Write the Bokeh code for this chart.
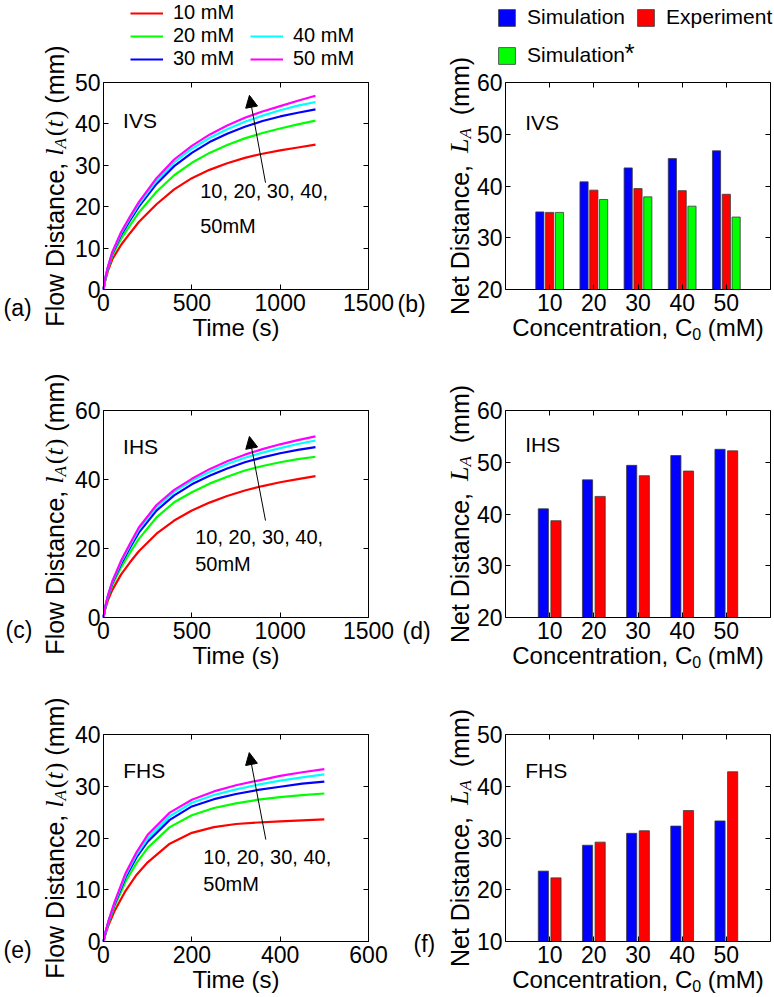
import numpy as np
from bokeh.plotting import figure
from bokeh.models import (Range1d, LinearAxis, FixedTicker, Label, Arrow, NormalHead,
                          Legend, LegendItem, ColumnDataSource)
from bokeh.transform import dodge
from bokeh.embed import file_html
from bokeh.resources import INLINE

# ---------------------------------------------------------------- data
conc = [10, 20, 30, 40, 50]
conc_labels = ["10", "20", "30", "40", "50"]
series_names = ["10 mM", "20 mM", "30 mM", "40 mM", "50 mM"]
curve_colors = ["#ff0000", "#00ff00", "#0000ff", "#00ffff", "#ff00ff"]

# IVS flow distance vs time (s -> mm)
t_ivs = [0, 10, 25, 50, 100, 150, 200, 300, 400, 500, 600, 700, 800, 900, 1000, 1100, 1200]
ivs_10 = [0, 2.2, 4.5, 7.3, 10.8, 13.6, 16.3, 20.6, 24.2, 26.9, 28.9, 30.5, 31.8, 32.8, 33.6, 34.3, 35.0]
ivs_20 = [0, 2.5, 5.0, 8.2, 12.3, 15.5, 18.6, 23.6, 27.6, 30.6, 33.0, 34.9, 36.5, 37.8, 38.9, 39.9, 40.8]
ivs_30 = [0, 2.6, 5.3, 8.7, 13.2, 16.7, 20.0, 25.5, 29.8, 33.0, 35.6, 37.6, 39.3, 40.7, 41.8, 42.7, 43.5]
ivs_40 = [0, 2.7, 5.4, 8.9, 13.6, 17.2, 20.6, 26.3, 30.7, 34.0, 36.6, 38.7, 40.5, 42.0, 43.3, 44.4, 45.3]
ivs_50 = [0, 2.8, 5.5, 9.1, 13.9, 17.6, 21.1, 26.9, 31.4, 34.7, 37.4, 39.6, 41.5, 43.0, 44.3, 45.6, 46.8]

# IHS flow distance vs time
t_ihs = [0, 10, 25, 50, 100, 150, 200, 300, 400, 500, 600, 700, 800, 900, 1000, 1100, 1200]
ihs_10 = [0, 2.5, 5.0, 8.0, 12.5, 16.0, 19.2, 24.3, 28.1, 31.0, 33.3, 35.2, 36.8, 38.1, 39.2, 40.1, 41.0]
ihs_20 = [0, 2.9, 5.8, 9.4, 14.6, 18.8, 22.8, 29.0, 33.4, 36.3, 38.8, 40.8, 42.6, 43.9, 45.0, 45.9, 46.6]
ihs_30 = [0, 3.0, 6.1, 10.0, 15.6, 20.2, 24.6, 31.0, 35.4, 38.6, 41.1, 43.2, 45.0, 46.4, 47.6, 48.6, 49.4]
ihs_40 = [0, 3.1, 6.3, 10.3, 16.1, 20.9, 25.5, 32.0, 36.4, 39.6, 42.2, 44.5, 46.3, 47.8, 49.1, 50.3, 51.3]
ihs_50 = [0, 3.2, 6.4, 10.5, 16.5, 21.4, 26.1, 32.6, 37.0, 40.2, 43.0, 45.3, 47.2, 48.8, 50.2, 51.4, 52.5]

# FHS flow distance vs time
t_fhs = [0, 5, 12, 25, 50, 75, 100, 150, 200, 250, 300, 350, 400, 450, 500]
fhs_10 = [0, 1.6, 3.3, 5.9, 9.8, 12.9, 15.3, 18.9, 21.0, 22.1, 22.7, 23.0, 23.2, 23.4, 23.6]
fhs_20 = [0, 1.8, 3.8, 6.8, 11.6, 15.2, 18.1, 22.1, 24.4, 25.8, 26.7, 27.4, 27.9, 28.3, 28.6]
fhs_30 = [0, 1.9, 4.0, 7.2, 12.4, 16.3, 19.3, 23.5, 26.1, 27.5, 28.5, 29.3, 29.9, 30.5, 30.9]
fhs_40 = [0, 1.9, 4.1, 7.4, 12.8, 16.8, 19.9, 24.2, 26.8, 28.3, 29.4, 30.3, 31.1, 31.7, 32.3]
fhs_50 = [0, 2.0, 4.2, 7.6, 13.2, 17.3, 20.6, 24.9, 27.4, 29.0, 30.2, 31.1, 32.0, 32.7, 33.3]

# net distance L_A (mm) per concentration
ivs_sim = [35.0, 40.8, 43.5, 45.3, 46.8]
ivs_exp = [34.9, 39.2, 39.5, 39.1, 38.4]
ivs_sim_star = [34.9, 37.4, 37.9, 36.1, 34.0]
ihs_sim = [41.0, 46.6, 49.4, 51.3, 52.5]
ihs_exp = [38.7, 43.4, 47.4, 48.3, 52.2]
fhs_sim = [23.6, 28.6, 30.9, 32.3, 33.3]
fhs_exp = [22.3, 29.2, 31.4, 35.3, 42.8]

# ---------------------------------------------------------------- canvas
W, H = 774, 997
SANS = "Liberation Sans"
SERIF = "Liberation Serif"
TICK_PX = "23px"

# One canvas; the default ranges are page pixels (y downwards) and carry the
# free-standing titles, tags and legends.  Each panel gets its own pair of
# extra ranges that map its data onto its box.
p = figure(width=W, height=H, x_range=Range1d(0, W), y_range=Range1d(H, 0),
           output_backend="svg", toolbar_location=None,
           x_axis_location=None, y_axis_location=None,
           min_border=0, min_border_left=0, min_border_right=0,
           min_border_top=0, min_border_bottom=0)
p.grid.visible = False
p.outline_line_color = None
p.background_fill_color = "white"
p.border_fill_color = "white"

# panel boxes on the page: (left, right, top, bottom) in pixels
BOX = {"a": (103, 368, 82, 289), "b": (505, 770, 82, 289),
       "c": (103, 368, 410, 617), "d": (505, 770, 410, 617),
       "e": (103, 368, 734, 941), "f": (505, 770, 734, 941)}
XR = {"a": (0, 1500), "b": (0, 6), "c": (0, 1500), "d": (0, 6), "e": (0, 600), "f": (0, 6)}
YR = {"a": (0, 50), "b": (20, 60), "c": (0, 60), "d": (20, 60), "e": (0, 40), "f": (10, 50)}

extra_x, extra_y = {}, {}
for k, (L, R, T, B) in BOX.items():
    x0, x1 = XR[k]
    y0, y1 = YR[k]
    sx = (R - L) / (x1 - x0)
    sy = (B - T) / (y1 - y0)
    extra_x[k + "x"] = Range1d(x0 - L / sx, x1 + (W - R) / sx)
    extra_y[k + "y"] = Range1d(y0 - (H - B) / sy, y1 + T / sy)
p.extra_x_ranges = extra_x
p.extra_y_ranges = extra_y


def rn(k):
    return dict(x_range_name=k + "x", y_range_name=k + "y")


def add_axes(k, xticks, yticks, xlabels=None):
    x0, x1 = XR[k]
    y0, y1 = YR[k]
    specs = [("below", y0, (x0, x1), xticks, True),
             ("above", y1, (x0, x1), xticks, False),
             ("left", x0, (y0, y1), yticks, True),
             ("right", x1, (y0, y1), yticks, False)]
    for side, loc, bounds, ticks, labelled in specs:
        ax = LinearAxis(ticker=FixedTicker(ticks=ticks), fixed_location=loc, bounds=bounds, **rn(k))
        ax.axis_line_color = "black"
        ax.axis_line_width = 1
        ax.major_tick_line_color = "black"
        ax.major_tick_in = 5
        ax.major_tick_out = 0
        ax.minor_tick_line_color = None
        ax.major_label_text_font = SANS
        ax.major_label_text_font_size = TICK_PX
        if labelled:
            ax.major_label_text_color = "black"
            ax.major_label_standoff = 4 if side == "below" else 3
            if xlabels and side == "below":
                ax.major_label_overrides = xlabels
        else:
            ax.major_label_text_color = None
            ax.major_label_standoff = 0
        p.add_layout(ax, side)


# ---------------------------------------------------------------- text helpers
SANS_W = {"F": 611, "l": 222, "o": 556, "w": 722, " ": 278, "D": 722, "i": 222, "s": 500,
          "t": 278, "a": 556, "n": 556, "c": 500, "e": 556, ",": 278, "(": 333, ")": 333,
          "m": 833, "N": 722, "C": 722, "r": 333, "T": 611, "M": 833, "0": 556}
SERIF_W = {"(": 333, ")": 333}
SERIF_I_W = {"l": 278, "A": 611, "t": 278, "L": 556}


def advance(text, font, style, size):
    if font == SANS:
        table = SANS_W
    elif style == "italic":
        table = SERIF_I_W
    else:
        table = SERIF_W
    return sum(table.get(ch, 556) for ch in text) * size / 1000.0


def txt(x, y, text, size, font=SANS, style="normal", align="left", angle=0.0):
    p.add_layout(Label(x=x, y=y, text=text, angle=angle, text_font=font,
                       text_font_style=style, text_font_size=f"{size}px",
                       text_align=align, text_baseline="middle", text_color="black"))


def y_title(pieces, mid_x, centre_y):
    """Vertical title from runs (text, font, style, size, sub_shift, gap_before)."""
    total = sum(advance(t, f, s, z) + g for t, f, s, z, _, g in pieces)
    y = centre_y + total / 2.0
    for text, font, style, size, shift, gap in pieces:
        y -= gap
        txt(mid_x + shift, y, text, size, font, style, angle=np.pi / 2)
        y -= advance(text, font, style, size)


def x_title(pieces, centre_x, mid_y):
    total = sum(advance(t, f, s, z) + g for t, f, s, z, _, g in pieces)
    x = centre_x - total / 2.0
    for text, font, style, size, shift, gap in pieces:
        x += gap
        txt(x, mid_y + shift, text, size, font, style)
        x += advance(text, font, style, size)


SP25 = 0.278 * 25
FLOW_PIECES = [("Flow Distance,", SANS, "normal", 25, 0, 0),
               ("l", SERIF, "italic", 26, 0, SP25),
               ("A", SERIF, "italic", 17, 6, 0),
               ("(", SERIF, "normal", 26, 0, 2),
               ("t", SERIF, "italic", 26, 0, 0),
               (")", SERIF, "normal", 26, 0, 1),
               ("(mm)", SANS, "normal", 25, 0, SP25)]
NET_PIECES = [("Net Distance,", SANS, "normal", 25, 0, 0),
              ("L", SERIF, "italic", 26, 0, SP25 + 5),
              ("A", SERIF, "italic", 17, 6, 0),
              ("(mm)", SANS, "normal", 25, 0, SP25 + 6)]
CONC_PIECES = [("Concentration, C", SANS, "normal", 24, 0, 0),
               ("0", SANS, "normal", 16, 6, 0),
               ("(mM)", SANS, "normal", 24, 0, 0.278 * 24)]


def centre(k):
    L, R, T, B = BOX[k]
    return (L + R) / 2.0, (T + B) / 2.0


# ---------------------------------------------------------------- curve panels
def curve_panel(k, t, ys, xticks, yticks, tag, tag_xy, name, name_xy, note_x, note_ys, arrow):
    add_axes(k, xticks, yticks)
    rends = [p.line(t, y, line_color=c, line_width=2.2, **rn(k)) for y, c in zip(ys, curve_colors)]
    p.add_layout(Label(x=name_xy[0], y=name_xy[1], text=name, text_font=SANS,
                       text_font_size="21px", text_baseline="middle", text_color="black", **rn(k)))
    for line_text, ny in zip(["10, 20, 30, 40,", "50mM"], note_ys):
        p.add_layout(Label(x=note_x, y=ny, text=line_text, text_font=SANS,
                           text_font_size="20px", text_baseline="middle",
                           text_color="black", **rn(k)))
    p.add_layout(Arrow(end=NormalHead(size=12, fill_color="black", line_color="black"),
                       x_start=arrow[0], y_start=arrow[1], x_end=arrow[2], y_end=arrow[3],
                       line_color="black", line_width=1, **rn(k)))
    cx, cy = centre(k)
    B = BOX[k][3]
    y_title(FLOW_PIECES, 54, cy)
    txt(cx, B + 38, "Time (s)", 24, align="center")
    txt(tag_xy[0], tag_xy[1], tag, 23)
    return rends


def bar_panel(k, series, colors, offsets, width, yticks, tag, tag_xy, name, name_xy):
    add_axes(k, list(range(1, len(conc) + 1)), yticks,
             xlabels={i + 1: lab for i, lab in enumerate(conc_labels)})
    data = {"pos": list(range(1, len(conc) + 1))}
    for j, s in enumerate(series):
        data[f"s{j}"] = s
    src = ColumnDataSource(data)
    base = YR[k][0]
    rends = [p.vbar(x=dodge("pos", off), top=f"s{j}", bottom=base, width=width, source=src,
                    fill_color=c, line_color="#3a3a3a", line_width=0.8, **rn(k))
             for j, (c, off) in enumerate(zip(colors, offsets))]
    p.add_layout(Label(x=name_xy[0], y=name_xy[1], text=name, text_font=SANS,
                       text_font_size="21px", text_baseline="middle", text_color="black", **rn(k)))
    cx, cy = centre(k)
    B = BOX[k][3]
    y_title(NET_PIECES, 459, cy)
    x_title(CONC_PIECES, cx, B + 38)
    txt(tag_xy[0], tag_xy[1], tag, 23)
    return rends


ra = curve_panel("a", t_ivs, [ivs_10, ivs_20, ivs_30, ivs_40, ivs_50],
                 [0, 500, 1000, 1500], [0, 10, 20, 30, 40, 50], "(a)", (3, 307),
                 "IVS", (111, 40.9), 547, (23.7, 15.4), (917, 25.8, 826, 46.9))
rc = curve_panel("c", t_ihs, [ihs_10, ihs_20, ihs_30, ihs_40, ihs_50],
                 [0, 500, 1000, 1500], [0, 20, 40, 60], "(c)", (5, 629),
                 "IHS", (111, 49.7), 519, (23.3, 15.6), (917, 28.1, 826, 52.5))
re_ = curve_panel("e", t_fhs, [fhs_10, fhs_20, fhs_30, fhs_40, fhs_50],
                  [0, 200, 400, 600], [0, 10, 20, 30, 40], "(e)", (3, 949),
                  "FHS", (44.6, 33.0), 226, (16.3, 11.2), (367.5, 19.7, 330, 36.5))

rb = bar_panel("b", [ivs_sim, ivs_exp, ivs_sim_star], ["#0000ff", "#ff0000", "#00ff00"],
               [-0.222, 0.0, 0.222], 0.185, [20, 30, 40, 50, 60], "(b)", (397, 303),
               "IVS", (0.446, 52.3))
rd = bar_panel("d", [ihs_sim, ihs_exp], ["#0000ff", "#ff0000"], [-0.143, 0.143], 0.23,
               [20, 30, 40, 50, 60], "(d)", (402, 630), "IHS", (0.446, 53.4))
rf = bar_panel("f", [fhs_sim, fhs_exp], ["#0000ff", "#ff0000"], [-0.143, 0.143], 0.23,
               [10, 20, 30, 40, 50], "(f)", (413, 943), "FHS", (0.446, 43.0))

# ---------------------------------------------------------------- legends
line_leg = dict(orientation="vertical", label_text_font=SANS, label_text_font_size="20px",
                label_text_color="black", glyph_width=33, glyph_height=18, label_standoff=10,
                spacing=0, padding=0, margin=0, border_line_color=None,
                background_fill_alpha=0)
p.add_layout(Legend(items=[LegendItem(label=series_names[i], renderers=[ra[i]])
                           for i in range(3)], location=(130, H - 70), **line_leg), "center")
p.add_layout(Legend(items=[LegendItem(label=series_names[i], renderers=[ra[i]])
                           for i in range(3, 5)], location=(250, H - 70), **line_leg), "center")

bar_leg = dict(orientation="horizontal", label_text_font=SANS, label_text_font_size="21px",
               label_text_color="black", glyph_width=21, glyph_height=21, label_standoff=10,
               spacing=10, padding=0, margin=0, border_line_color=None,
               background_fill_alpha=0)
p.add_layout(Legend(items=[LegendItem(label="Simulation", renderers=[rb[0]]),
                           LegendItem(label="Experiment", renderers=[rb[1]])],
                    location=(496, H - 29), **bar_leg), "center")
p.add_layout(Legend(items=[LegendItem(label="Simulation", renderers=[rb[2]])],
                    location=(496, H - 67), **bar_leg), "center")
txt(624, 52, "*", 26)

with open("out.html", "w") as fh:
    fh.write(file_html(p, INLINE, "Flow distance"))
